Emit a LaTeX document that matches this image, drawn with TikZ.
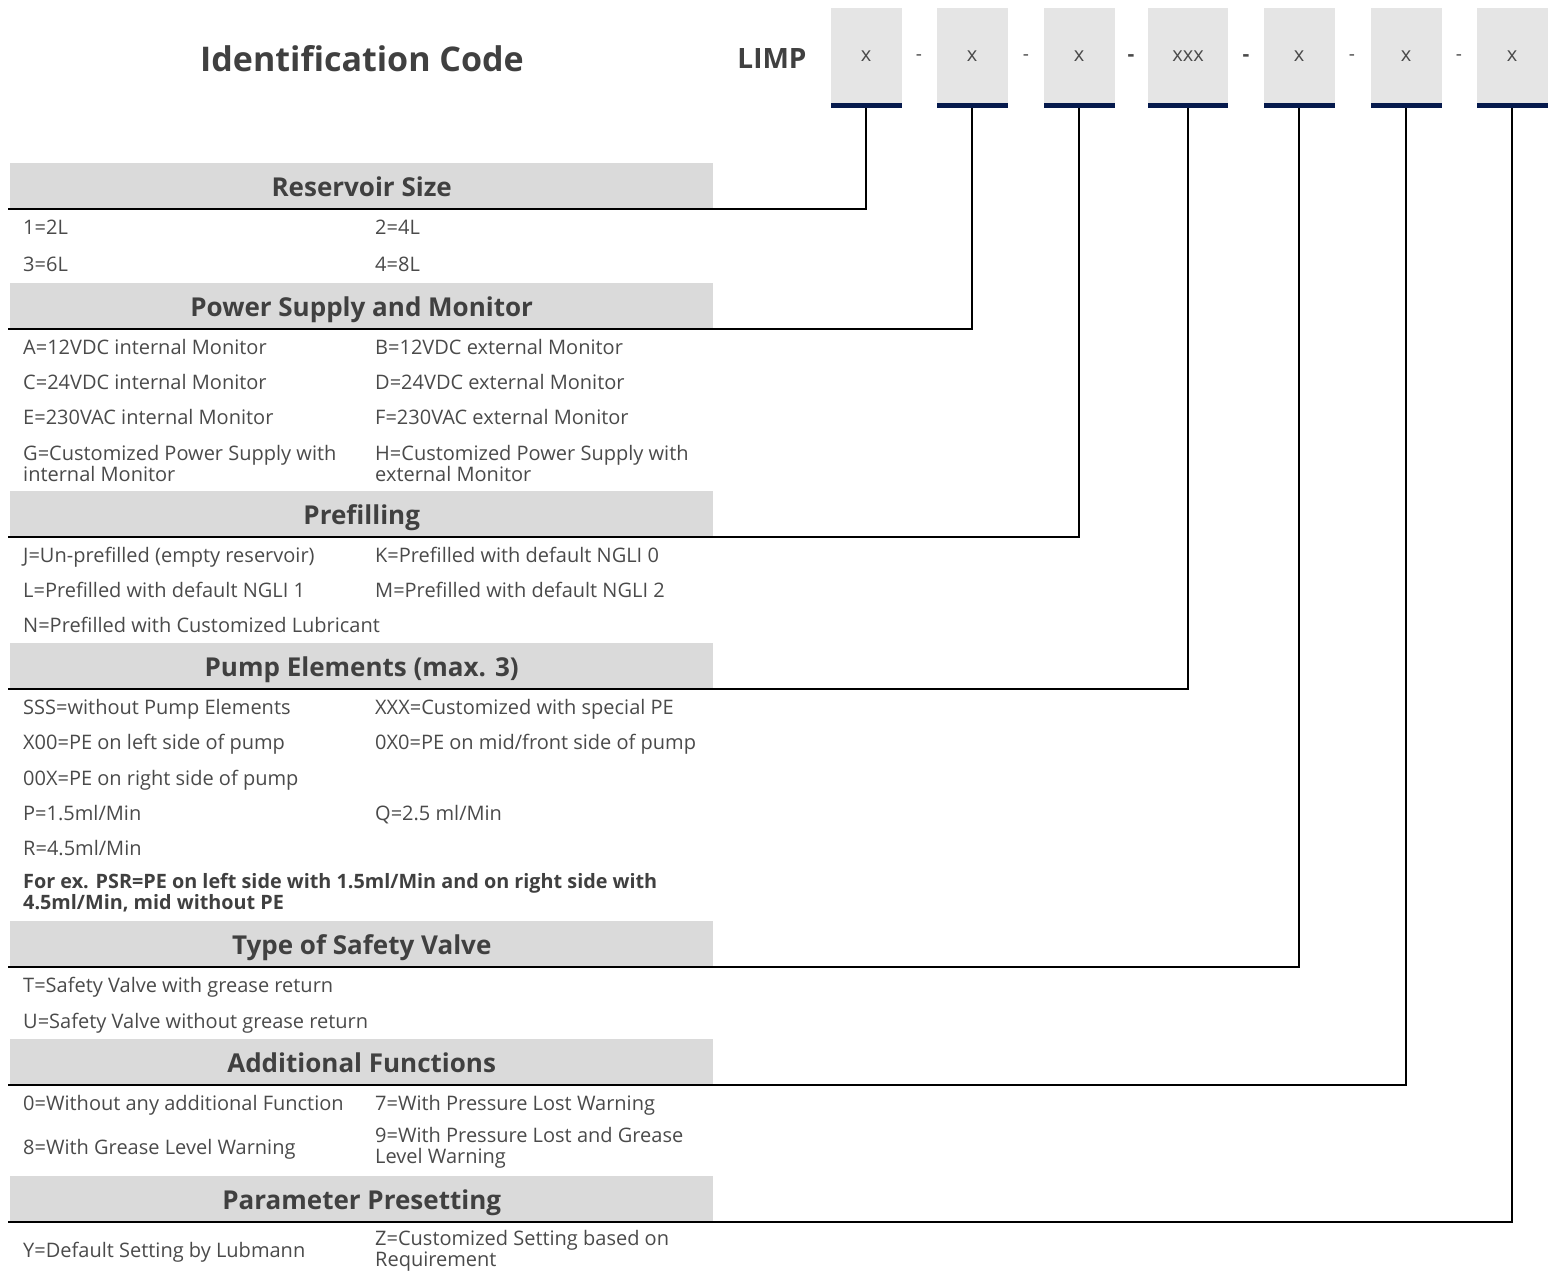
\documentclass[tikz,border=0pt]{standalone}
\usepackage{fontspec}
\setmainfont{Open Sans}
\usetikzlibrary{positioning}
\definecolor{txt}{HTML}{404040}
\definecolor{bodytxt}{HTML}{4A4A4A}
\definecolor{hdrfill}{HTML}{DADADA}
\definecolor{boxfill}{HTML}{E5E5E5}
\definecolor{navy}{HTML}{061A4D}
\tikzset{
  x=1pt, y=-1pt,
  codebox/.style={fill=boxfill, minimum width=71pt, minimum height=95pt, inner sep=0pt, anchor=north,
    text=bodytxt, font=\fontsize{20}{24}\selectfont},
  navybar/.style={fill=navy, minimum width=71pt, minimum height=5pt, inner sep=0pt, anchor=north},
  dashtxt/.style={text=bodytxt, font=\fontsize{19}{24}\selectfont, inner sep=0pt},
  hdr/.style={fill=hdrfill, minimum width=703pt, minimum height=46pt, inner sep=0pt, anchor=south west,
    text=txt, font=\bfseries\fontsize{26}{30}\selectfont, text height=20.6pt, text depth=0pt},
  item/.style={anchor=base west, inner sep=0pt, text=bodytxt, align=left,
    font=\fontsize{20}{21}\selectfont},
  item2/.style={anchor=west, inner sep=0pt, text=bodytxt, align=left,
    font=\fontsize{20}{21}\selectfont},
  conn/.style={draw=black, line width=2.4pt},
}
\begin{document}
\begin{tikzpicture}
\useasboundingbox (0,0) rectangle (1554,1275);
% title
\node[text=txt, font=\bfseries\fontsize{34}{36}\selectfont, inner sep=0pt] (title) at (362,59) {Identification Code};
\node[text=txt, font=\bfseries\fontsize{28}{30}\selectfont, inner sep=0pt] (limp) at (772,59) {LIMP};
% code boxes
\foreach \n/\cx/\w/\t in {1/866/71/x, 2/972/71/x, 3/1079/71/x, 4/1188/80/xxx, 5/1299/71/x, 6/1406/71/x, 7/1512/71/x}{
  \node[codebox, minimum width=\w pt] (b\n) at (\cx,8) {\t};
  \node[navybar, minimum width=\w pt] (bar\n) at (\cx,103) {};
}
\node[dashtxt] (d1) at (919,58) {-};
\node[dashtxt] (d2) at (1026,58) {-};
\node[dashtxt, font=\bfseries\fontsize{21}{24}\selectfont] (d3) at (1131,58) {-};
\node[dashtxt, font=\bfseries\fontsize{21}{24}\selectfont] (d4) at (1246,58) {-};
\node[dashtxt] (d5) at (1352,58) {-};
\node[dashtxt] (d6) at (1459,58) {-};
% headers
\node[hdr] (h1) at (10,209) {Reservoir Size};
\node[hdr] (h2) at (10,329) {Power Supply and Monitor};
\node[hdr] (h3) at (10,537) {Prefilling};
\node[hdr] (h4) at (10,689) {Pump Elements (max. 3)};
\node[hdr] (h5) at (10,967) {Type of Safety Valve};
\node[hdr] (h6) at (10,1085) {Additional Functions};
\node[hdr] (h7) at (10,1222) {Parameter Presetting};
% connector ends
\coordinate (e1) at (8,209);
\coordinate (e2) at (8,329);
\coordinate (e3) at (8,537);
\coordinate (e4) at (8,689);
\coordinate (e5) at (8,967);
\coordinate (e6) at (8,1085);
\coordinate (e7) at (8,1222);
\foreach \n in {1,...,7}{
  \draw[conn] (bar\n.south) |- (e\n);
}
% items (baselines)
\def\ca{23}\def\cb{375}
\node[item] (r1a) at (\ca,234) {1=2L};
\node[item] (r1b) at (\cb,234) {2=4L};
\node[item] (r2a) at (\ca,271) {3=6L};
\node[item] (r2b) at (\cb,271) {4=8L};
\node[item] (p1a) at (\ca,354) {A=12VDC internal Monitor};
\node[item] (p1b) at (\cb,354) {B=12VDC external Monitor};
\node[item] (p2a) at (\ca,389) {C=24VDC internal Monitor};
\node[item] (p2b) at (\cb,389) {D=24VDC external Monitor};
\node[item] (p3a) at (\ca,424) {E=230VAC internal Monitor};
\node[item] (p3b) at (\cb,424) {F=230VAC external Monitor};
\node[item2] (p4a) at (\ca,463) {G=Customized Power Supply with\\internal Monitor};
\node[item2] (p4b) at (\cb,463) {H=Customized Power Supply with\\external Monitor};
\node[item] (f1a) at (\ca,562) {J=Un-prefilled (empty reservoir)};
\node[item] (f1b) at (\cb,562) {K=Prefilled with default NGLI 0};
\node[item] (f2a) at (\ca,597) {L=Prefilled with default NGLI 1};
\node[item] (f2b) at (\cb,597) {M=Prefilled with default NGLI 2};
\node[item] (f3a) at (\ca,632) {N=Prefilled with Customized Lubricant};
\node[item] (e1a) at (\ca,714) {SSS=without Pump Elements};
\node[item] (e1b) at (\cb,714) {XXX=Customized with special PE};
\node[item] (e2a) at (\ca,749) {X00=PE on left side of pump};
\node[item] (e2b) at (\cb,749) {0X0=PE on mid/front side of pump};
\node[item] (e3a) at (\ca,785) {00X=PE on right side of pump};
\node[item] (e4a) at (\ca,820) {P=1.5ml/Min};
\node[item] (e4b) at (\cb,820) {Q=2.5 ml/Min};
\node[item] (e5a) at (\ca,855) {R=4.5ml/Min};
\node[item2, text=txt, font=\bfseries\fontsize{19.8}{21}\selectfont] (e6a) at (\ca,893) {For ex. PSR=PE on left side with 1.5ml/Min and on right side with\\4.5ml/Min, mid without PE};
\node[item] (s1a) at (\ca,992) {T=Safety Valve with grease return};
\node[item] (s2a) at (\ca,1028) {U=Safety Valve without grease return};
\node[item] (a1a) at (\ca,1110) {0=Without any additional Function};
\node[item] (a1b) at (\cb,1110) {7=With Pressure Lost Warning};
\node[item] (a2a) at (\ca,1154) {8=With Grease Level Warning};
\node[item2] (a2b) at (\cb,1148) {9=With Pressure Lost and Grease\\Level Warning};
\node[item] (y1a) at (\ca,1257) {Y=Default Setting by Lubmann};
\node[item2] (y1b) at (\cb,1251) {Z=Customized Setting based on\\Requirement};
\end{tikzpicture}
\end{document}
